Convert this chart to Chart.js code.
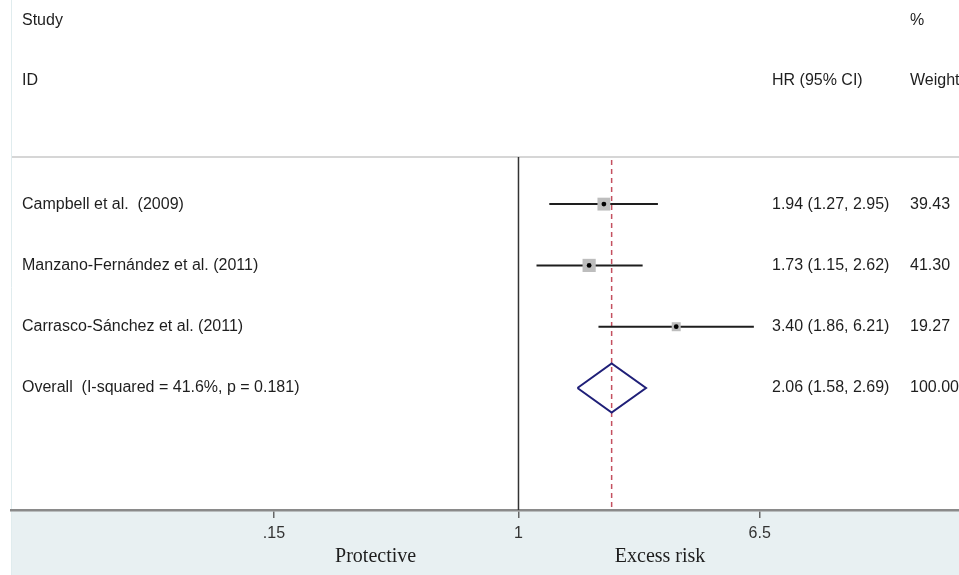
<!DOCTYPE html>
<html>
<head>
<meta charset="utf-8">
<script src="https://cdn.jsdelivr.net/npm/chart.js@4.4.0/dist/chart.umd.min.js"></script>
<style>
  html, body { margin: 0; padding: 0; background: #fff; }
  canvas { display: block; }
</style>
</head>
<body>
<canvas id="forest" width="959" height="575"></canvas>
<script>
// study data
const studies = ['Campbell et al.  (2009)', 'Manzano-Fernández et al. (2011)', 'Carrasco-Sánchez et al. (2011)'];
const hr = [1.94, 1.73, 3.40];
const ciLow = [1.27, 1.15, 1.86];
const ciHigh = [2.95, 2.62, 6.21];
const weights = [39.43, 41.30, 19.27];

// pooled estimate: HR, low, high
const overallLabel = 'Overall  (I-squared = 41.6%, p = 0.181)';
const pooled = [2.06, 1.58, 2.69];
const pooledWeight = 100.00;

// axis
const tickValues = [0.15, 1, 6.5];
const tickLabels = ['.15', '1', '6.5'];
const sideLabels = ['Protective', 'Excess risk'];
const sideAt = [0.33, 3.0];
const xMin = 0.0195, xMax = 30.5;
const yMin = -2.33, yMax = 5.99;   // row units, 1 = first study
const sepRow = 0.23;              // line under the header

const TXT = '#1e1e1e';
const SANS = '"Liberation Sans", Arial, sans-serif';
const SERIF = '"Liberation Serif", "Times New Roman", serif';

const overallRow = studies.length + 1;
const pts = hr.map((v, i) => ({ x: v, y: i + 1 }));
const fmt = v => v.toFixed(2);

const datasets = [];
// centre dots (drawn on top)
datasets.push({ data: pts, pointStyle: 'circle', pointRadius: 2.4, backgroundColor: '#000', borderWidth: 0 });
// weight boxes
datasets.push({ data: pts, pointStyle: 'rect', pointRadius: weights.map(w => 1.45 * Math.sqrt(w)), backgroundColor: '#bdbdbd', borderWidth: 0 });
// confidence intervals
hr.forEach((v, i) => {
  datasets.push({
    data: [{ x: ciLow[i], y: i + 1 }, { x: ciHigh[i], y: i + 1 }],
    showLine: true, borderColor: '#1e1e1e', borderWidth: 2, pointRadius: 0
  });
});
// pooled diamond
datasets.push({
  data: [
    { x: pooled[1], y: overallRow }, { x: pooled[0], y: overallRow - 0.4 },
    { x: pooled[2], y: overallRow }, { x: pooled[0], y: overallRow + 0.4 },
    { x: pooled[1], y: overallRow }
  ],
  showLine: true, borderColor: '#1f1f78', borderWidth: 2, pointRadius: 0, tension: 0, fill: false
});
// dashed line at pooled estimate
datasets.push({
  data: [{ x: pooled[0], y: sepRow + 0.05 }, { x: pooled[0], y: yMax }],
  showLine: true, borderColor: '#c4505f', borderWidth: 1.5, borderDash: [5, 4], pointRadius: 0
});
// line of no effect
datasets.push({
  data: [{ x: 1, y: sepRow }, { x: 1, y: yMax }],
  showLine: true, borderColor: '#333', borderWidth: 1.5, pointRadius: 0
});

const decor = {
  id: 'decor',
  beforeDraw(chart) {
    const { ctx, chartArea, width, height } = chart;
    ctx.save();
    ctx.fillStyle = '#fff';
    ctx.fillRect(0, 0, width, height);
    // bottom band
    ctx.fillStyle = '#e8f0f2';
    ctx.fillRect(chartArea.left, chartArea.bottom, width - chartArea.left, height - chartArea.bottom);
    // left border
    ctx.strokeStyle = '#e0ecee';
    ctx.lineWidth = 1;
    ctx.beginPath();
    ctx.moveTo(chartArea.left + 0.5, 0);
    ctx.lineTo(chartArea.left + 0.5, height);
    ctx.stroke();
    // header separator
    const ys = chart.scales.y.getPixelForValue(sepRow);
    ctx.strokeStyle = '#d6d6d6';
    ctx.lineWidth = 2;
    ctx.beginPath();
    ctx.moveTo(chartArea.left + 1, ys);
    ctx.lineTo(width, ys);
    ctx.stroke();
    ctx.restore();
  },
  afterDraw(chart) {
    const { ctx } = chart;
    const y = chart.scales.y, x = chart.scales.x;
    const colStudy = 22, colHR = 772, colW = 910;
    ctx.save();
    ctx.fillStyle = TXT;
    ctx.font = '16px ' + SANS;
    ctx.textAlign = 'left';
    ctx.textBaseline = 'middle';
    // header
    ctx.fillText('Study', colStudy, 21);
    ctx.fillText('%', colW, 21);
    ctx.fillText('ID', colStudy, 81);
    ctx.fillText('HR (95% CI)', colHR, 81);
    ctx.fillText('Weight', colW, 81);
    // rows
    studies.forEach((s, i) => {
      const py = y.getPixelForValue(i + 1);
      ctx.fillText(s, colStudy, py);
      ctx.fillText(fmt(hr[i]) + ' (' + fmt(ciLow[i]) + ', ' + fmt(ciHigh[i]) + ')', colHR, py);
      ctx.fillText(fmt(weights[i]), colW, py);
    });
    const po = y.getPixelForValue(overallRow);
    ctx.fillText(overallLabel, colStudy, po);
    ctx.fillText(fmt(pooled[0]) + ' (' + fmt(pooled[1]) + ', ' + fmt(pooled[2]) + ')', colHR, po);
    ctx.fillText(fmt(pooledWeight), colW, po);
    // side labels under the axis
    ctx.font = '20px ' + SERIF;
    ctx.textAlign = 'center';
    sideLabels.forEach((t, i) => ctx.fillText(t, x.getPixelForValue(sideAt[i]), 557));
    ctx.restore();
  }
};

new Chart(document.getElementById('forest'), {
  type: 'scatter',
  data: { datasets },
  options: {
    responsive: false,
    animation: false,
    events: [],
    layout: { autoPadding: false, padding: { left: 11, right: 0, top: 0, bottom: 0 } },
    plugins: { legend: { display: false }, tooltip: { enabled: false } },
    scales: {
      x: {
        type: 'logarithmic',
        min: xMin,
        max: xMax,
        afterBuildTicks: s => { s.ticks = tickValues.map(v => ({ value: v })); },
        afterFit: s => { s.height = 65; s.paddingLeft = 0; s.paddingRight = 0; },
        ticks: {
          autoSkip: false, maxRotation: 0, padding: 6, color: '#333',
          font: { family: SANS, size: 16 },
          callback: v => tickLabels[tickValues.indexOf(v)]
        },
        grid: { drawOnChartArea: false, drawTicks: true, tickLength: 8, color: '#666', lineWidth: 1.5 },
        border: { display: true, color: '#8a8a8a', width: 2.5 }
      },
      y: { type: 'linear', reverse: true, min: yMin, max: yMax, display: false }
    }
  },
  plugins: [decor]
});
</script>
</body>
</html>
